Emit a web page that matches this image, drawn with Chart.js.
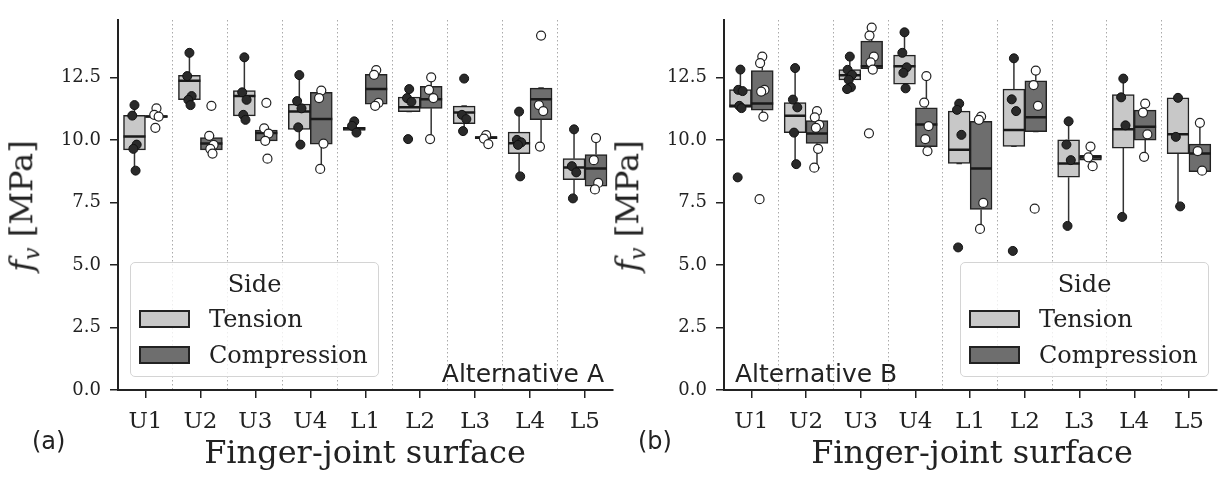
<!DOCTYPE html>
<html lang="en">
<head>
  <meta charset="UTF-8">
  <title>Finger-joint surface shear strength</title>
  <script src="https://cdn.jsdelivr.net/npm/chart.js"></script>
  <style>
    body { margin: 0; width: 1220px; height: 479px; overflow: hidden; background: #fff; position: relative; }
    .panel { position: absolute; top: 0; }
    .ylab { position: absolute; font: 32px 'DejaVu Serif'; color: #222; white-space: nowrap; line-height: 32px;
            transform: translate(-50%, -50%) rotate(-90deg); }
    .ylab sub { font-size: 22px; }
    .xlab { position: absolute; font: 32px 'DejaVu Serif'; color: #222; white-space: nowrap; line-height: 32px;
            transform: translateX(-50%); }
    .tag { position: absolute; font: 24px 'DejaVu Sans'; color: #222; }
    .alt { position: absolute; font: 25px 'DejaVu Sans'; color: #222; line-height: 26px; white-space: nowrap; }
    .legend { position: absolute; top: 262px; width: 249px; height: 115px; box-sizing: border-box;
              border: 1.5px solid #d4d4d4; border-radius: 5px; background: rgba(255,255,255,0.8);
              font: 24px 'DejaVu Serif'; color: #222; }
    .legend div { position: absolute; line-height: 26px; white-space: nowrap; }
    .legend span { position: absolute; left: 8px; width: 51px; height: 18px; box-sizing: border-box; border: 2px solid #222; }
  </style>
</head>
<body>
  <canvas id="chartA" class="panel" style="left:0px" width="620" height="479"></canvas>
  <canvas id="chartB" class="panel" style="left:606px" width="616" height="479"></canvas>

  <div class="ylab" style="left:27px; top:206px"><i>f<sub>v</sub></i> [MPa]</div>
  <div class="ylab" style="left:633px; top:206px"><i>f<sub>v</sub></i> [MPa]</div>
  <div class="xlab" style="left:365px; top:436px">Finger-joint surface</div>
  <div class="xlab" style="left:972px; top:436px">Finger-joint surface</div>
  <div class="tag" style="left:32px; top:427px">(a)</div>
  <div class="tag" style="left:638px; top:427px">(b)</div>
  <div class="alt" style="right:616px; top:361px">Alternative A</div>
  <div class="alt" style="left:735px; top:361px">Alternative B</div>

  <div class="legend" style="left:130px">
    <div style="left:0; width:100%; text-align:center; top:8px">Side</div>
    <span style="top:47px; background:#c8c8c8"></span><div style="left:78px; top:43px">Tension</div>
    <span style="top:83px; background:#6e6e6e"></span><div style="left:78px; top:79px">Compression</div>
  </div>
  <div class="legend" style="left:960px">
    <div style="left:0; width:100%; text-align:center; top:8px">Side</div>
    <span style="top:47px; background:#c8c8c8"></span><div style="left:78px; top:43px">Tension</div>
    <span style="top:83px; background:#6e6e6e"></span><div style="left:78px; top:79px">Compression</div>
  </div>

  <script>
    const categories = ['U1', 'U2', 'U3', 'U4', 'L1', 'L2', 'L3', 'L4', 'L5'];
    const yTicks = [0, 2.5, 5, 7.5, 10, 12.5];
    const separators = [0.5, 1.5, 2.5, 3.5, 4.5, 5.5, 6.5, 7.5];

    // each box: [lower whisker, Q1, median, Q3, upper whisker]
    const boxA_tension = [
      [8.77, 9.60, 10.13, 10.98, 11.39], [11.39, 11.61, 12.36, 12.58, 13.48], [10.80, 10.96, 11.75, 11.97, 13.30],
      [9.81, 10.42, 11.13, 11.43, 12.59], [10.38, 10.38, 10.45, 10.50, 10.50], [11.13, 11.13, 11.30, 11.71, 12.03],
      [10.35, 10.65, 11.09, 11.35, 11.35], [8.54, 9.45, 9.86, 10.31, 11.13], [7.66, 8.41, 8.90, 9.25, 10.42]
    ];
    const boxA_compression = [
      [10.90, 10.90, 10.93, 10.97, 10.97], [9.45, 9.60, 9.85, 10.09, 10.16], [9.96, 9.96, 10.27, 10.39, 10.46],
      [8.84, 9.83, 10.83, 11.90, 11.97], [11.36, 11.43, 12.03, 12.62, 12.79], [10.03, 11.26, 11.62, 12.14, 12.50],
      [10.05, 10.05, 10.09, 10.13, 10.19], [9.73, 10.81, 11.62, 12.07, 12.07], [8.02, 8.15, 8.86, 9.41, 10.07]
    ];
    const ptsA_tension = [
      [11.39, 10.97, 9.81, 9.64, 8.77], [13.48, 12.55, 11.75, 11.60, 11.39], [13.30, 11.90, 11.60, 11.00, 10.80],
      [12.59, 11.55, 11.26, 10.50, 9.81], [10.74, 10.56, 10.29], [12.03, 11.67, 11.52, 10.03],
      [12.45, 11.00, 10.83, 10.35], [11.13, 10.00, 9.90, 9.80, 8.54], [10.42, 8.95, 8.70, 7.66]
    ];
    const ptsA_compression = [
      [11.26, 11.00, 10.93, 10.48], [11.36, 10.16, 9.80, 9.64, 9.45], [11.48, 10.46, 10.25, 9.96, 9.25],
      [11.97, 11.67, 9.85, 8.84], [12.79, 12.60, 11.48, 11.36], [12.50, 12.00, 11.67, 10.03],
      [10.19, 10.05, 9.83], [14.17, 11.39, 11.15, 9.73], [10.07, 9.19, 8.28, 8.02]
    ];

    const boxB_tension = [
      [11.27, 11.30, 11.36, 12.01, 12.81], [9.03, 10.29, 10.96, 11.49, 12.87], [12.03, 12.40, 12.58, 12.81, 13.33],
      [12.06, 12.23, 12.94, 13.39, 14.30], [9.06, 9.06, 9.60, 11.15, 11.45], [9.74, 9.74, 10.39, 12.03, 13.26],
      [6.56, 8.51, 9.06, 10.00, 10.74], [6.92, 9.67, 10.42, 11.81, 12.45], [7.34, 9.45, 10.22, 11.68, 11.68]
    ];
    const boxB_compression = [
      [10.93, 11.19, 11.45, 12.77, 13.33], [8.89, 9.86, 10.25, 10.77, 11.15], [12.81, 12.85, 12.94, 13.95, 14.49],
      [9.55, 9.73, 10.61, 11.28, 12.55], [6.44, 7.22, 8.86, 10.74, 10.93], [10.33, 10.33, 10.90, 12.36, 12.77],
      [8.95, 9.19, 9.30, 9.38, 9.73], [9.32, 9.99, 10.52, 11.19, 11.45], [8.73, 8.73, 9.45, 9.83, 10.68]
    ];
    const ptsB_tension = [
      [12.81, 12.00, 11.95, 11.36, 11.27, 8.50], [12.87, 11.61, 11.30, 10.29, 9.03], [13.33, 12.80, 12.60, 12.40, 12.10, 12.03],
      [14.30, 13.48, 12.90, 12.68, 12.06], [11.45, 11.20, 10.20, 5.70], [13.26, 11.62, 11.15, 5.56],
      [10.74, 9.81, 9.19, 6.56], [12.45, 11.70, 10.58, 6.92], [11.68, 10.12, 7.34]
    ];
    const ptsB_compression = [
      [13.33, 13.07, 12.00, 11.93, 10.93, 7.63], [11.15, 10.90, 10.60, 10.48, 9.64, 8.89], [14.49, 14.17, 13.33, 13.10, 12.81, 10.26],
      [12.55, 11.49, 10.55, 10.03, 9.55], [10.93, 10.80, 7.48, 6.44], [12.77, 12.19, 11.36, 7.25],
      [9.73, 9.30, 8.95], [11.45, 11.09, 10.22, 9.32], [10.68, 9.55, 8.77]
    ];

    const DARK = '#222';
    const serif = 'DejaVu Serif';
    const jitter = [0, -0.04, 0.04, -0.02, 0.02, -0.05];

    function boxes(list, dx) {
      return list.map((b, i) => ({ x: i + dx, y: [b[1], b[3]] }));
    }

    function whiskers(list, dx) {
      const out = [];
      list.forEach((b, i) => {
        const x = i + dx;
        out.push({ x: x, y: b[0] }, { x: x, y: b[1] }, { x: x, y: null });
        out.push({ x: x, y: b[3] }, { x: x, y: b[4] }, { x: x, y: null });
        out.push({ x: x - 0.05, y: b[0] }, { x: x + 0.05, y: b[0] }, { x: x, y: null });
        out.push({ x: x - 0.05, y: b[4] }, { x: x + 0.05, y: b[4] }, { x: x, y: null });
      });
      return out;
    }

    function medians(list, dx) {
      const out = [];
      list.forEach((b, i) => {
        out.push({ x: i + dx - 0.2, y: b[2] }, { x: i + dx + 0.2, y: b[2] }, { x: i, y: null });
      });
      return out;
    }

    function points(pts, dx) {
      const out = [];
      pts.forEach((list, i) => {
        list.forEach((v, k) => out.push({ x: i + dx + jitter[k % jitter.length], y: v }));
      });
      return out;
    }

    function makeChart(id, tBox, cBox, tPts, cPts) {
      const ctx = document.getElementById(id).getContext('2d');
      return new Chart(ctx, {
        type: 'bar',
        data: {
          labels: categories,
          datasets: [
            { label: 'Tension', data: boxes(tBox, -0.2), backgroundColor: '#c8c8c8',
              borderColor: DARK, borderWidth: 1.5, borderSkipped: false, grouped: false,
              categoryPercentage: 1, barPercentage: 1, xAxisID: 'x2', order: 3 },
            { label: 'Compression', data: boxes(cBox, 0.2), backgroundColor: '#6e6e6e',
              borderColor: DARK, borderWidth: 1.5, borderSkipped: false, grouped: false,
              categoryPercentage: 1, barPercentage: 1, xAxisID: 'x2', order: 3 },
            { type: 'line', data: whiskers(tBox, -0.2).concat(whiskers(cBox, 0.2)), xAxisID: 'x2',
              borderColor: '#333', borderWidth: 1.5, pointRadius: 0, spanGaps: false, order: 4 },
            { type: 'line', data: medians(tBox, -0.2).concat(medians(cBox, 0.2)), xAxisID: 'x2',
              borderColor: '#1a1a1a', borderWidth: 2.5, pointRadius: 0, spanGaps: false, order: 2 },
            { type: 'line', data: points(tPts, -0.2), xAxisID: 'x2', showLine: false,
              pointRadius: 4.5, pointBackgroundColor: '#2a2a2a', pointBorderColor: '#111', pointBorderWidth: 1, order: 1 },
            { type: 'line', data: points(cPts, 0.2), xAxisID: 'x2', showLine: false,
              pointRadius: 4.5, pointBackgroundColor: '#fff', pointBorderColor: '#222', pointBorderWidth: 1.2, order: 1 }
          ]
        },
        options: {
          responsive: false,
          animation: false,
          layout: { padding: { top: 8, right: id === 'chartA' ? 7.5 : 0.5, left: 0, bottom: 0 } },
          plugins: { legend: { display: false }, tooltip: { enabled: false } },
          scales: {
            x: {
              type: 'category', offset: true,
              grid: { display: true, drawOnChartArea: false, offset: false, tickLength: 8, color: DARK, lineWidth: 1.5 },
              border: { display: true, color: DARK, width: 2 },
              ticks: { font: { family: serif, size: 23 }, color: DARK, padding: 10 },
              afterFit: s => { s.height = 89; }
            },
            x2: {
              type: 'linear', position: 'top', min: -0.5, max: 8.5, offset: false,
              afterBuildTicks: ax => { ax.ticks = separators.map(v => ({ value: v })); },
              ticks: { display: false },
              grid: { drawTicks: false, offset: false, color: '#aaa', lineWidth: 1 },
              border: { display: false, dash: [1.5, 2.5] },
              afterFit: s => { s.height = 0; }
            },
            y: {
              type: 'linear', min: 0, max: 14.8,
              afterBuildTicks: ax => { ax.ticks = yTicks.map(v => ({ value: v })); },
              ticks: { font: { family: serif, size: 18 }, color: DARK, padding: 9, callback: v => v.toFixed(1) },
              grid: { drawOnChartArea: false, tickLength: 8, color: DARK, lineWidth: 1.5 },
              border: { color: DARK, width: 2 },
              afterFit: s => { s.width = 118; }
            }
          }
        }
      });
    }

    makeChart('chartA', boxA_tension, boxA_compression, ptsA_tension, ptsA_compression);
    makeChart('chartB', boxB_tension, boxB_compression, ptsB_tension, ptsB_compression);
  </script>
</body>
</html>
